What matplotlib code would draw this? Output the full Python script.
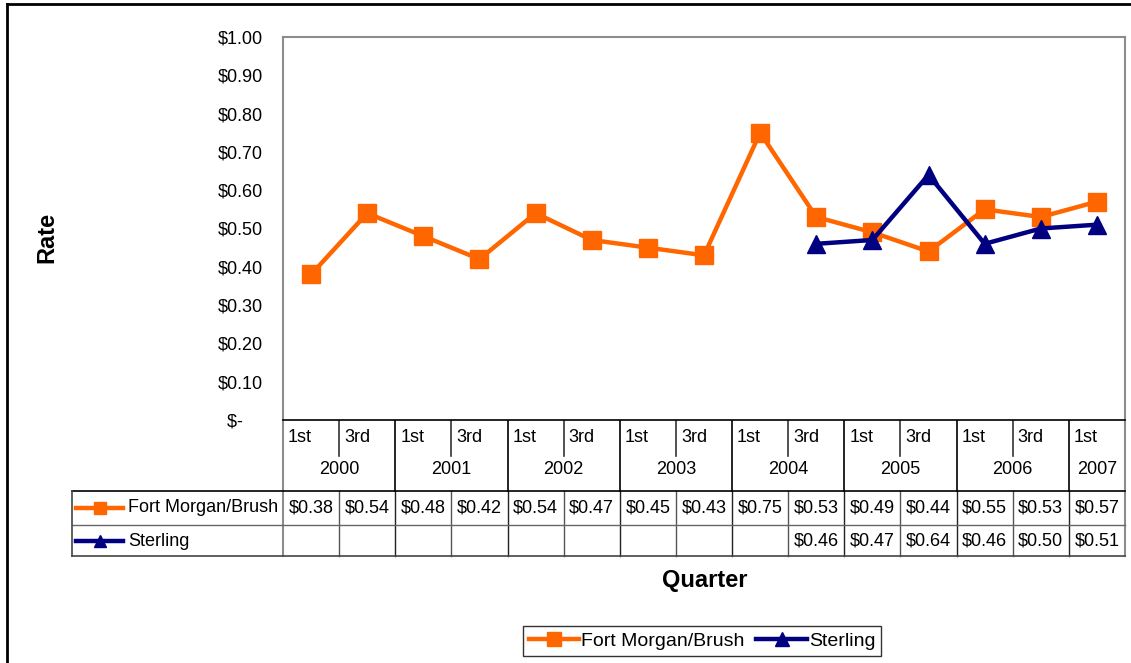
import numpy as np
import matplotlib
matplotlib.use('Agg')
import matplotlib.pyplot as plt
from matplotlib import transforms
from matplotlib.lines import Line2D

plt.rcParams['font.family'] = ['Liberation Sans', 'DejaVu Sans']

# Data
quarters = ['1st', '3rd'] * 7 + ['1st']
years = ['2000', '2001', '2002', '2003', '2004', '2005', '2006', '2007']
fort_morgan = [0.38, 0.54, 0.48, 0.42, 0.54, 0.47, 0.45, 0.43,
               0.75, 0.53, 0.49, 0.44, 0.55, 0.53, 0.57]
sterling = [np.nan] * 9 + [0.46, 0.47, 0.64, 0.46, 0.50, 0.51]
series_names = ['Fort Morgan/Brush', 'Sterling']

ORANGE = '#FF6600'
NAVY = '#000080'
W, H = 1131, 663

fig = plt.figure(figsize=(W / 100, H / 100), dpi=100)
fig.patch.set_facecolor('white')


def fx(px):
    return px / W


def fy(py):
    return 1 - py / H


ax = fig.add_axes([fx(283), fy(420), fx(1125) - fx(283), fy(37) - fy(420)])
x = np.arange(len(fort_morgan))

ax.plot(x, fort_morgan, color=ORANGE, lw=3.2, marker='s', ms=12.5,
        label=series_names[0], zorder=3)
ax.plot(x, sterling, color=NAVY, lw=3.2, marker='^', ms=13,
        label=series_names[1], zorder=4)

ax.set_xlim(-0.5, len(x) - 0.5)
ax.set_ylim(0, 1.0)
ax.set_yticks(np.arange(0, 1.01, 0.1))
ax.yaxis.set_major_formatter(
    plt.FuncFormatter(lambda v, p: '$-    ' if abs(v) < 1e-9 else f'${v:.2f}'))
ax.tick_params(axis='y', length=0, pad=14.5, labelsize=13)
ax.set_xticks([])

for s in ['left', 'top', 'right']:
    ax.spines[s].set_color('#8c8c8c')
    ax.spines[s].set_linewidth(1.5)
ax.spines['bottom'].set_color('black')
ax.spines['bottom'].set_linewidth(1.2)

ax.set_ylabel('Rate', fontsize=17, fontweight='bold')
ax.yaxis.set_label_coords(fx(58), fy(237), transform=fig.transFigure)

# Category axis + data table (x from data coords, y in figure coords)
tr = transforms.blended_transform_factory(ax.transData, fig.transFigure)

def vline(xd, y0, y1, color='black', lw=1.0):
    ax.add_line(Line2D([xd, xd], [fy(y0), fy(y1)], transform=tr, color=color,
                       lw=lw, clip_on=False))

def hline_fig(x0, x1, y, color='black', lw=1.0):
    fig.add_artist(Line2D([fx(x0), fx(x1)], [fy(y), fy(y)], color=color, lw=lw))

# quarter labels
for i, q in enumerate(quarters):
    ax.text(i - 0.5 + 0.09, fy(437), q, transform=tr, ha='left', va='center',
            fontsize=13)
# year labels and separators
for k, yr in enumerate(years):
    start = 2 * k
    end = min(2 * k + 1, len(x) - 1)
    ax.text((start + end) / 2, fy(470), yr, transform=tr, ha='center',
            va='center', fontsize=13)
    if k > 0:
        vline(start - 0.5, 421, 491, 'black', 1.2)
    if end > start:
        vline(start + 0.5, 421, 456, '#333333', 1.2)

# extended plot edges
vline(-0.5, 420, 556, '#8c8c8c', 1.5)
vline(len(x) - 0.5, 420, 556, '#8c8c8c', 1.5)

# table grid
hline_fig(72, 1125, 491, 'black', 1.2)
hline_fig(72, 1125, 525, '#666666', 1.0)
hline_fig(72, 1125, 556, '#444444', 1.2)
fig.add_artist(Line2D([fx(72), fx(72)], [fy(491), fy(556)], color='#444444', lw=1.2))
for i in range(1, len(x)):
    vline(i - 0.5, 491, 556, '#222222' if i % 2 == 0 else '#555555', 1.0)

# table values
for row_y, vals in [(508, fort_morgan), (541, sterling)]:
    for i, v in enumerate(vals):
        if not np.isnan(v):
            ax.text(i, fy(row_y), f'${v:.2f}', transform=tr, ha='center',
                    va='center', fontsize=13)

# table series labels with keys
for row_y, name, col, mk, ms in [(508, series_names[0], ORANGE, 's', 8),
                                 (541, series_names[1], NAVY, '^', 8)]:
    fig.add_artist(Line2D([fx(76), fx(123)], [fy(row_y), fy(row_y)], color=col,
                          lw=3.2))
    fig.add_artist(Line2D([fx(99.5)], [fy(row_y)], color=col, marker=mk, ms=ms,
                          lw=0))
    fig.text(fx(128), fy(row_y), name, ha='left', va='center', fontsize=13)

fig.text(fx(705), fy(580), 'Quarter', ha='center', va='center', fontsize=17,
         fontweight='bold')

leg = fig.legend(loc='center', bbox_to_anchor=(fx(702), fy(641)), ncol=2,
                 fontsize=14, frameon=True, fancybox=False, edgecolor='black',
                 handlelength=2.6, handletextpad=0.1, columnspacing=0.6,
                 borderpad=0.3, markerscale=0.75)
leg.get_frame().set_linewidth(1.0)

# outer chart border (left and top visible)
fig.add_artist(Line2D([fx(7), fx(7)], [fy(4), 0], color='black', lw=2))
fig.add_artist(Line2D([fx(7), 1], [fy(4), fy(4)], color='black', lw=2))

fig.savefig('out.png', dpi=100, facecolor='white')
